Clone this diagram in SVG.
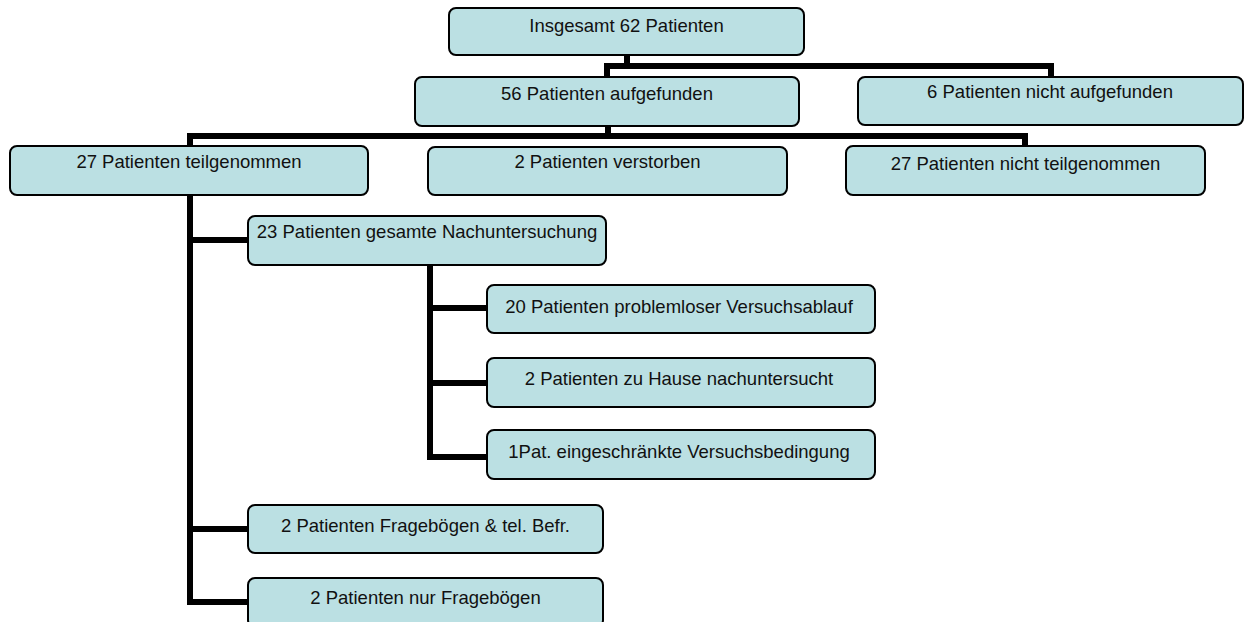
<svg xmlns="http://www.w3.org/2000/svg" width="1247" height="622" viewBox="0 0 1247 622">
<style>
.box{fill:#BBE0E3;stroke:#000;stroke-width:2}
.lbl{font-family:"Liberation Sans",Arial,sans-serif;font-size:18.5px;fill:#111;text-anchor:middle}
.con{fill:none;stroke:#000;stroke-width:6;stroke-linecap:butt;stroke-linejoin:miter}
</style>
<rect width="1247" height="622" fill="#fff"/>
<g id="connectors">
<path class="con" d="M627,55 V66 M607,77 V66 H1051 V77"/>
<path class="con" d="M608,126 V136 M190,146 V136 H1025 V146"/>
<path class="con" d="M190,195 V605 M187,240 H248 M187,529 H248 M187,602 H248"/>
<path class="con" d="M430,265 V460 M427,308 H487 M427,383 H487 M427,457 H487"/>
</g>
<g id="n1"><rect class="box" x="449" y="8" width="355" height="47" rx="7"/><text class="lbl" x="626.5" y="32">Insgesamt 62 Patienten</text></g>
<g id="n2"><rect class="box" x="415" y="77" width="384" height="49" rx="7"/><text class="lbl" x="607" y="100">56 Patienten aufgefunden</text></g>
<g id="n3"><rect class="box" x="858" y="77" width="385" height="48" rx="7"/><text class="lbl" x="1050" y="98">6 Patienten nicht aufgefunden</text></g>
<g id="n4"><rect class="box" x="10" y="146" width="358" height="49" rx="7"/><text class="lbl" x="189" y="168">27 Patienten teilgenommen</text></g>
<g id="n5"><rect class="box" x="428" y="147" width="359" height="48" rx="7"/><text class="lbl" x="607.5" y="168">2 Patienten verstorben</text></g>
<g id="n6"><rect class="box" x="846" y="146" width="359" height="49" rx="7"/><text class="lbl" x="1025.5" y="170">27 Patienten nicht teilgenommen</text></g>
<g id="n7"><rect class="box" x="248" y="216" width="358" height="49" rx="7"/><text class="lbl" x="427" y="238">23 Patienten gesamte Nachuntersuchung</text></g>
<g id="n8"><rect class="box" x="487" y="285" width="388" height="48" rx="7"/><text class="lbl" x="679" y="313">20 Patienten problemloser Versuchsablauf</text></g>
<g id="n9"><rect class="box" x="487" y="358" width="388" height="49" rx="7"/><text class="lbl" x="679" y="385">2 Patienten zu Hause nachuntersucht</text></g>
<g id="n10"><rect class="box" x="487" y="430" width="388" height="49" rx="7"/><text class="lbl" x="679" y="458">1Pat. eingeschränkte Versuchsbedingung</text></g>
<g id="n11"><rect class="box" x="248" y="505" width="355" height="48" rx="7"/><text class="lbl" x="425.5" y="532">2 Patienten Fragebögen &amp; tel. Befr.</text></g>
<g id="n12"><rect class="box" x="248" y="578" width="355" height="49" rx="7"/><text class="lbl" x="425.5" y="604">2 Patienten nur Fragebögen</text></g>
</svg>
